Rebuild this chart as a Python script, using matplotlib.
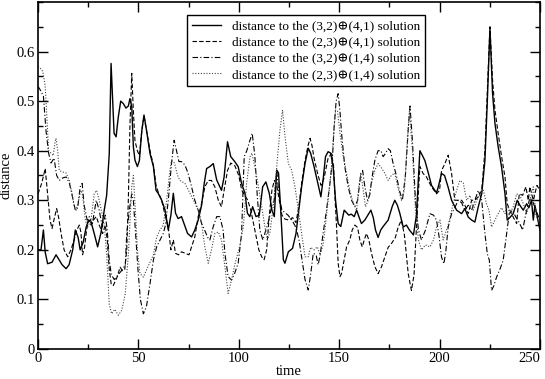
import matplotlib
matplotlib.use("Agg")
from matplotlib import pyplot as plt
from matplotlib.ticker import MultipleLocator

plt.rcParams['font.family'] = ['Liberation Serif', 'DejaVu Serif']

# (3,2)+(4,1)  solid
t_a = [0, 1.5, 2.7, 3.6, 4.8, 7, 9, 10.5, 12, 14, 15.5, 17.3, 18.6, 20, 21, 22.5, 24, 25.2, 26.5, 28,
       29.7, 31.4, 33, 34.2, 35.5, 36.4, 37.2, 37.9, 38.9, 40, 41.2, 42.5, 43.8, 45, 45.8, 46.7, 47.5,
       48.3, 49.5, 50.5, 51.7, 52.8, 54.1, 55.8, 57.5, 58.8, 60, 61.6, 63.3, 64.9, 66.2, 67.4, 68.5,
       69.8, 71.5, 73, 74.5, 76.5, 78.1, 79.8, 81.5, 82.8, 84, 85.6, 87.3, 89, 91.4, 92.7, 94.4, 96,
       98, 99.7, 101.4, 103.1, 104.3, 105.5, 106.9, 108.6, 110.2, 111.9, 113.5, 115.2, 116.5, 117.7,
       118.9, 119.8, 120.9, 122.2, 123, 124.7, 126.8, 128.5, 129.7, 131.3, 133, 134.6, 135.8, 137.5,
       139.4, 140.9, 142, 143.2, 144.5, 145.8, 147, 148.2, 149.5, 150.8, 152.5, 154.8, 156, 157.5,
       158.7, 160, 161.1, 162.8, 164.3, 165.8, 167, 168.1, 169.4, 170.7, 171.9, 174.4, 176.4, 177.7,
       179, 180.2, 181.9, 183.5, 185, 187, 188.5, 190.2, 191.5, 192.7, 194.4, 196, 198.5, 199.3, 201,
       202.5, 204.3, 206, 208.5, 211, 212.6, 214.3, 216, 217.6, 219.3, 221, 222.6, 223.8, 225.1,
       226.4, 227.6, 229.2, 230.9, 232.6, 233.7, 235, 236.7, 238.7, 240, 241.7, 243.4, 244.5, 245.8,
       246.7, 247.5, 250]
d_a = [0.2, 0.2, 0.24, 0.195, 0.172, 0.175, 0.19, 0.18, 0.17, 0.162, 0.17, 0.2, 0.24, 0.225, 0.2,
       0.215, 0.246, 0.26, 0.255, 0.233, 0.206, 0.235, 0.28, 0.31, 0.394, 0.576, 0.5, 0.435, 0.428,
       0.468, 0.5, 0.495, 0.486, 0.49, 0.505, 0.489, 0.408, 0.381, 0.368, 0.38, 0.44, 0.472, 0.44,
       0.394, 0.368, 0.32, 0.313, 0.3, 0.28, 0.24, 0.27, 0.314, 0.274, 0.263, 0.267, 0.25, 0.233,
       0.226, 0.24, 0.26, 0.29, 0.334, 0.364, 0.368, 0.374, 0.341, 0.32, 0.347, 0.418, 0.388, 0.378,
       0.368, 0.334, 0.314, 0.274, 0.267, 0.287, 0.267, 0.27, 0.327, 0.337, 0.314, 0.28, 0.267,
       0.361, 0.355, 0.28, 0.18, 0.173, 0.196, 0.203, 0.233, 0.274, 0.327, 0.374, 0.405, 0.395,
       0.368, 0.334, 0.307, 0.341, 0.388, 0.398, 0.395, 0.368, 0.3, 0.253, 0.247, 0.28, 0.27, 0.272,
       0.267, 0.28, 0.265, 0.253, 0.26, 0.27, 0.28, 0.265, 0.24, 0.225, 0.24, 0.247, 0.26, 0.287,
       0.3, 0.29, 0.274, 0.246, 0.25, 0.24, 0.23, 0.27, 0.4, 0.39, 0.38, 0.355, 0.33, 0.315, 0.326,
       0.354, 0.35, 0.326, 0.3, 0.28, 0.273, 0.283, 0.266, 0.26, 0.256, 0.287, 0.313, 0.38, 0.5,
       0.647, 0.516, 0.455, 0.408, 0.367, 0.313, 0.26, 0.265, 0.273, 0.3, 0.29, 0.28, 0.293, 0.285,
       0.3, 0.26, 0.29, 0.24]

# (2,3)+(4,1)  dashed
t_b = [0, 1.5, 2.5, 3.6, 4.8, 6, 7, 8.2, 9.3, 10.3, 11.5, 13, 14.8, 16.4, 18, 19.3, 20.6, 21.4, 22.2,
       23.2, 24.2, 25.2, 26.5, 27.6, 29, 30.5, 32.2, 33.5, 34.5, 35.5, 36.5, 37.5, 39.4, 40.9, 42,
       43.2, 44.2, 45, 45.8, 46.7, 47.5, 48.3, 49.5, 50.5, 51.7, 52.8, 54.1, 55.8, 57.5, 58.8, 60,
       61.6, 63.3, 64.9, 66.2, 67.4, 68.5, 70, 71.5, 73.3, 75.2, 76.5, 78.1, 79.8, 81.5, 83.1, 84.8,
       86.4, 88.1, 89.8, 91.4, 92.7, 94.4, 96, 98, 100, 101.5, 103, 104.5, 106, 108, 110, 111.4,
       112.6, 113.9, 115.2, 116.5, 117.7, 118.9, 120.2, 121.5, 123, 125, 126.8, 128.5, 130, 131.5,
       133, 134.5, 135.5, 136.5, 137.5, 139.5, 141, 142.5, 144.5, 146.2, 147.2, 148, 148.7, 149.5,
       150.4, 151.2, 152.5, 153.7, 155.3, 156.5, 157.8, 159.2, 160.3, 161.5, 162.5, 163.6, 164.8,
       166.1, 167.8, 169.4, 171.1, 172.8, 174.4, 176.1, 178, 179.4, 181, 182.5, 184.4, 186, 187.3,
       188.5, 190.2, 191.8, 193.5, 196, 198.5, 200, 201, 202.7, 204.3, 206, 207.6, 209.3, 211,
       212.6, 214.3, 216, 217.6, 219.3, 221, 222.6, 224.3, 225.1, 226.4, 227.6, 229.2, 230.9, 232.6,
       233.7, 235, 236.7, 238.4, 239.7, 241.4, 243, 244.2, 245, 246.7, 248.5, 250]
d_b = [0.313, 0.33, 0.345, 0.364, 0.313, 0.26, 0.243, 0.265, 0.283, 0.265, 0.233, 0.2, 0.186, 0.2,
       0.22, 0.24, 0.25, 0.235, 0.19, 0.205, 0.24, 0.26, 0.25, 0.26, 0.267, 0.25, 0.233, 0.25, 0.22,
       0.16, 0.13, 0.128, 0.145, 0.165, 0.158, 0.16, 0.2, 0.3, 0.45, 0.556, 0.48, 0.42, 0.4, 0.39,
       0.44, 0.47, 0.44, 0.4, 0.37, 0.33, 0.315, 0.3, 0.27, 0.245, 0.2, 0.22, 0.193, 0.19, 0.196,
       0.193, 0.19, 0.206, 0.226, 0.267, 0.294, 0.327, 0.34, 0.34, 0.327, 0.3, 0.287, 0.32, 0.36,
       0.375, 0.37, 0.35, 0.32, 0.31, 0.3, 0.28, 0.24, 0.2, 0.186, 0.18, 0.2, 0.27, 0.32, 0.34, 0.33,
       0.3, 0.27, 0.262, 0.26, 0.265, 0.255, 0.29, 0.34, 0.38, 0.41, 0.425, 0.41, 0.385, 0.35, 0.33,
       0.345, 0.385, 0.394, 0.37, 0.3, 0.247, 0.173, 0.146, 0.152, 0.18, 0.206, 0.22, 0.24, 0.25,
       0.245, 0.22, 0.206, 0.22, 0.233, 0.22, 0.193, 0.166, 0.152, 0.166, 0.186, 0.205, 0.213, 0.225,
       0.246, 0.26, 0.23, 0.152, 0.118, 0.15, 0.246, 0.368, 0.354, 0.347, 0.327, 0.313, 0.32, 0.36,
       0.374, 0.391, 0.354, 0.3, 0.3, 0.3, 0.29, 0.273, 0.3, 0.3, 0.307, 0.32, 0.4, 0.57, 0.65,
       0.543, 0.482, 0.435, 0.388, 0.347, 0.293, 0.28, 0.266, 0.253, 0.313, 0.31, 0.327, 0.3, 0.327,
       0.3, 0.33, 0.32]

# (3,2)+(1,4)  dash-dot
t_c = [0, 1.5, 2.7, 4, 5.3, 6.5, 8, 9.3, 10.6, 12.3, 14, 15.6, 17, 18.6, 19.8, 21, 22, 23, 24.5, 25.6,
       27, 29, 30.5, 32, 33.5, 34.5, 35.5, 36.5, 38, 40, 42, 43.5, 44.2, 45.5, 46.7, 47.5, 48.5, 49.8,
       51, 52.5, 54, 55.8, 57.5, 59.1, 60.8, 62.4, 63.5, 64.9, 66.5, 67.8, 69, 70.2, 71.5, 73.2, 74.8,
       76.5, 78.1, 79.8, 81.5, 83, 84.5, 85.6, 87.3, 89, 90.6, 92.2, 93.1, 94.7, 96.4, 98, 99.7, 101.4,
       102.7, 104, 105.5, 106.7, 108, 109.2, 110.5, 112, 113.5, 115, 116.5, 117.7, 118.9, 120, 121.5,
       123, 124.5, 126.5, 128.5, 130, 131.5, 133, 134.6, 135.8, 137.1, 138.5, 139.5, 140.4, 142,
       143.7, 145.4, 146.5, 147.5, 148.5, 149.5, 150.4, 151.2, 152.8, 154.5, 156.2, 157.8, 159.2,
       160.8, 161.7, 162.8, 164.1, 165.2, 166.4, 167.8, 169.4, 170.8, 171.9, 173, 174.4, 175.5,
       176.9, 178.5, 180, 181.5, 183, 184.5, 185.3, 186.5, 188, 189.5, 191, 193, 195.2, 197, 198.5,
       199.8, 201, 202.2, 203.2, 204.3, 206, 207.6, 209.3, 211, 212.6, 214.3, 216, 217.6, 219.3, 221,
       222.6, 223.8, 224.8, 225.9, 227.1, 228.4, 230, 231.7, 233.4, 234.7, 236.3, 238, 239.7, 241.4,
       243, 244.7, 245.8, 247.5, 249, 250]
d_c = [0.53, 0.52, 0.51, 0.44, 0.395, 0.375, 0.385, 0.35, 0.34, 0.345, 0.347, 0.335, 0.31, 0.28,
       0.285, 0.327, 0.334, 0.29, 0.26, 0.267, 0.25, 0.3, 0.28, 0.246, 0.27, 0.24, 0.18, 0.15, 0.14,
       0.15, 0.16, 0.17, 0.233, 0.28, 0.313, 0.3, 0.24, 0.16, 0.1, 0.071, 0.085, 0.132, 0.18, 0.206,
       0.22, 0.233, 0.25, 0.3, 0.374, 0.421, 0.4, 0.378, 0.378, 0.371, 0.354, 0.327, 0.3, 0.28, 0.253,
       0.24, 0.225, 0.22, 0.247, 0.267, 0.267, 0.24, 0.193, 0.146, 0.139, 0.153, 0.173, 0.233, 0.388,
       0.4, 0.42, 0.435, 0.39, 0.31, 0.24, 0.22, 0.24, 0.26, 0.29, 0.3, 0.36, 0.31, 0.28, 0.275, 0.27,
       0.26, 0.245, 0.22, 0.18, 0.14, 0.119, 0.15, 0.193, 0.19, 0.17, 0.186, 0.233, 0.28, 0.334,
       0.374, 0.448, 0.5, 0.515, 0.48, 0.435, 0.368, 0.327, 0.3, 0.287, 0.3, 0.354, 0.36, 0.327, 0.3,
       0.31, 0.347, 0.381, 0.4, 0.4, 0.388, 0.394, 0.404, 0.4, 0.374, 0.35, 0.32, 0.3, 0.35, 0.45,
       0.49, 0.42, 0.3, 0.24, 0.22, 0.24, 0.273, 0.27, 0.26, 0.226, 0.185, 0.172, 0.2, 0.246, 0.273,
       0.285, 0.3, 0.295, 0.28, 0.29, 0.28, 0.3, 0.32, 0.3, 0.233, 0.192, 0.179, 0.118, 0.128, 0.145,
       0.16, 0.179, 0.233, 0.273, 0.28, 0.266, 0.255, 0.24, 0.273, 0.3, 0.305, 0.285, 0.27, 0.26]

# (2,3)+(1,4)  dotted
t_d = [0, 1.5, 2.4, 3.6, 4.5, 5.3, 6.5, 7.6, 8.6, 9, 9.8, 10.6, 12.3, 14, 15.6, 17, 18, 19, 20.2, 21.4,
       22.2, 23.6, 24.7, 26.4, 28, 29.2, 30.5, 31.9, 33, 34.2, 35.5, 36.7, 38.3, 40, 41.7, 43.4, 45,
       46.7, 47.5, 48.5, 49.5, 50.8, 52.5, 54.1, 55.8, 57.5, 59.1, 60.8, 62.4, 64.1, 65.7, 66.5, 68,
       69.5, 70.7, 73.2, 75.7, 77.5, 79.8, 81.5, 83.1, 84.8, 86.4, 88.1, 89.8, 91.4, 93.1, 94.7, 96.4,
       98, 100, 100.6, 102.3, 103.9, 105.6, 106.5, 108, 109.7, 111.4, 113, 114.2, 115.5, 117.2, 118.9,
       120.5, 121.8, 123, 124.7, 126.3, 128, 129.7, 131.3, 133, 134.6, 135.8, 137.5, 139.1, 140.5,
       142, 143.2, 144.5, 146.2, 147.5, 148.2, 149.2, 150.4, 152, 153.7, 155.3, 157, 158.7, 159.8,
       160.8, 162, 163.1, 164.5, 166.1, 167.8, 169.4, 171.1, 172.8, 174.4, 176, 177.7, 179, 181,
       182.5, 184, 185, 186.5, 188, 189.5, 191, 193, 195.2, 197, 198.5, 200.2, 201.8, 204.3, 206.8,
       208.5, 210.1, 211.8, 213.5, 215.2, 216.8, 218.5, 220.1, 221.8, 223.4, 224.6, 225.9, 227.6,
       229.2, 230.9, 232.6, 233.7, 235, 236.7, 238.4, 240, 241.7, 243.4, 245, 246.7, 248, 250]
d_d = [0.57, 0.565, 0.56, 0.53, 0.46, 0.4, 0.395, 0.39, 0.42, 0.425, 0.4, 0.36, 0.357, 0.355, 0.34,
       0.313, 0.287, 0.28, 0.3, 0.32, 0.31, 0.26, 0.246, 0.26, 0.313, 0.32, 0.3, 0.273, 0.25, 0.19,
       0.09, 0.071, 0.08, 0.068, 0.078, 0.11, 0.19, 0.327, 0.35, 0.28, 0.2, 0.152, 0.145, 0.16, 0.175,
       0.19, 0.226, 0.24, 0.25, 0.3, 0.36, 0.38, 0.375, 0.35, 0.34, 0.334, 0.314, 0.3, 0.28, 0.253,
       0.206, 0.173, 0.2, 0.233, 0.236, 0.22, 0.166, 0.112, 0.139, 0.17, 0.2, 0.21, 0.247, 0.334,
       0.388, 0.395, 0.368, 0.33, 0.287, 0.247, 0.22, 0.235, 0.287, 0.368, 0.441, 0.482, 0.43, 0.374,
       0.361, 0.327, 0.28, 0.233, 0.186, 0.186, 0.205, 0.2, 0.206, 0.19, 0.21, 0.25, 0.3, 0.368,
       0.448, 0.482, 0.48, 0.435, 0.39, 0.354, 0.32, 0.294, 0.28, 0.327, 0.354, 0.32, 0.287, 0.3,
       0.334, 0.361, 0.374, 0.365, 0.354, 0.34, 0.35, 0.355, 0.33, 0.3, 0.32, 0.42, 0.48, 0.4, 0.28,
       0.22, 0.2, 0.21, 0.206, 0.22, 0.246, 0.26, 0.22, 0.25, 0.293, 0.32, 0.34, 0.335, 0.3, 0.31,
       0.28, 0.3, 0.313, 0.32, 0.293, 0.28, 0.246, 0.26, 0.273, 0.285, 0.273, 0.29, 0.273, 0.287,
       0.313, 0.31, 0.293, 0.273, 0.3, 0.327, 0.27, 0.25]

labels = ["distance to the (3,2)\u2295(4,1) solution",
          "distance to the (2,3)\u2295(4,1) solution",
          "distance to the (3,2)\u2295(1,4) solution",
          "distance to the (2,3)\u2295(1,4) solution"]

x_ticks = [0, 50, 100, 150, 200, 250]
y_ticks = [0, 0.1, 0.2, 0.3, 0.4, 0.5, 0.6]
y_tick_labels = ['0', '0.1', '0.2', '0.3', '0.4', '0.5', '0.6']

fig = plt.figure(figsize=(5.45, 3.79), dpi=100)
ax = fig.add_axes([0.0697, 0.0792, 0.921, 0.9156])

ax.plot(t_a, d_a, color='black', lw=1.0, ls='-', label=labels[0])
ax.plot(t_b, d_b, color='black', lw=0.8, ls=(0, (4, 2)), label=labels[1])
ax.plot(t_c, d_c, color='black', lw=0.8, ls=(0, (5, 2, 1, 2)), label=labels[2])
ax.plot(t_d, d_d, color='#444444', lw=0.8, ls=(0, (1, 1.5)), label=labels[3])

ax.set_xlim(0, 250)
ax.set_ylim(0, 0.7)
ax.set_xticks(x_ticks)
ax.set_xticklabels([str(v) for v in x_ticks])
ax.xaxis.set_minor_locator(MultipleLocator(25))
ax.set_yticks(y_ticks)
ax.set_yticklabels(y_tick_labels)
ax.yaxis.set_minor_locator(MultipleLocator(0.05))
ax.tick_params(which='both', direction='in', top=True, right=True, labelsize=10.5, pad=2)
ax.tick_params(which='major', length=7, width=1)
ax.tick_params(which='minor', length=3.5, width=1)
for s in ax.spines.values():
    s.set_linewidth(1.2)

# last x label would run off the right edge
ax.get_xticklabels()[-1].set_horizontalalignment('right')

ax.set_xlabel('time', fontsize=10.5, labelpad=0)
ax.set_ylabel('distance', fontsize=10.5, labelpad=3)

leg = ax.legend(loc='upper left', bbox_to_anchor=(0.297, 0.963), fontsize=9.5,
                frameon=True, fancybox=False, edgecolor='black', framealpha=1,
                handlelength=2.2, labelspacing=0.3, borderpad=0.4, handletextpad=0.8,
                borderaxespad=0)
leg.get_frame().set_linewidth(1.0)

fig.savefig('out.png', dpi=100)
